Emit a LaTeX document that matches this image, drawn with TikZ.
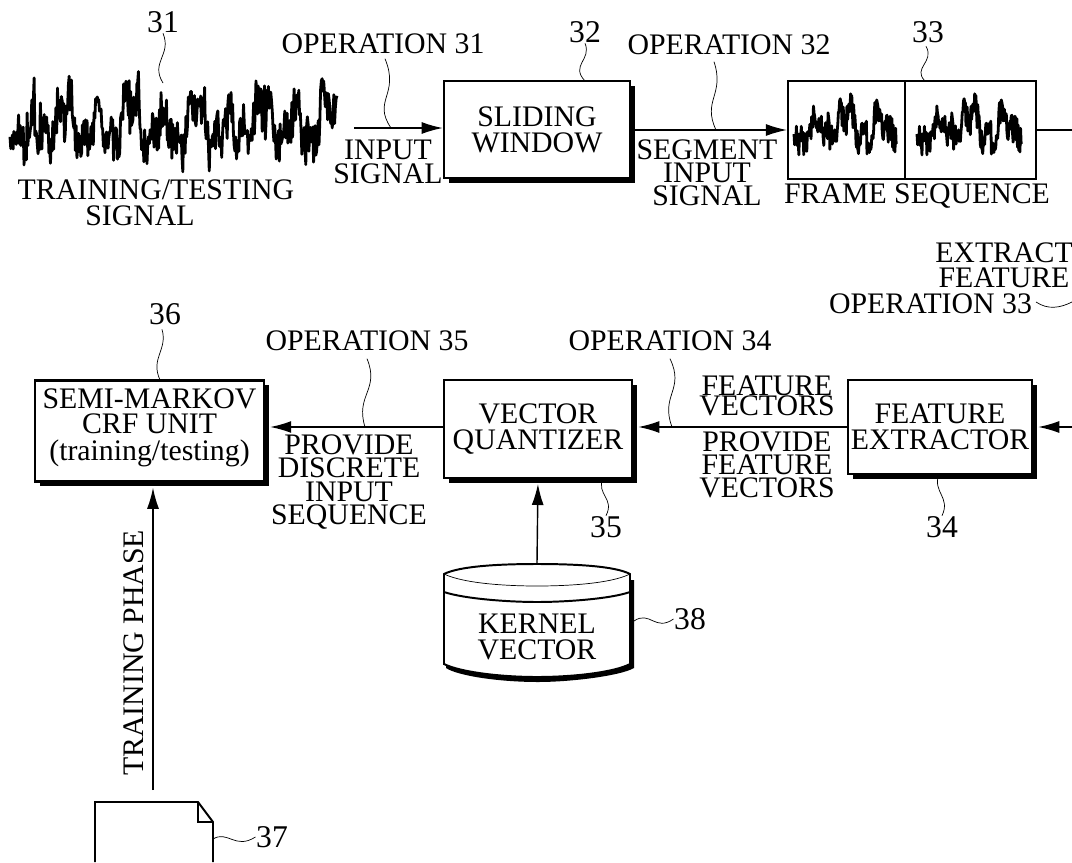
\documentclass[tikz,border=0pt]{standalone}
\usepackage{fontspec}
\setmainfont{Liberation Serif}
\usetikzlibrary{arrows.meta,shadows}
\tikzset{
  lbl/.style={inner sep=0pt,align=center,font=\fontsize{21.2}{16.5}\selectfont},
  num/.style={inner sep=0pt,font=\fontsize{22.5}{22}\selectfont},
  boxed/.style={draw,line width=1.8pt,fill=white,inner sep=0pt,align=center,
    font=\fontsize{21.2}{18.5}\selectfont,
    drop shadow={shadow xshift=3.4pt,shadow yshift=-3.4pt,opacity=1,fill=black}},
  frame/.style={draw,line width=1.6pt,inner sep=0pt},
  leader/.style={line width=0.5pt},
  wave/.style={line width=2pt,line join=round}
}
% noisy signal: x start, x end, centre, height, samples, frequency
\newcommand{\sigwave}[6]{
  \draw[wave] plot[domain=0:1,samples=#5]
    ({#1+\x*(#2-#1)},{#3+#4*(0.30*sin(\x*#6*11)+0.22*sin(\x*#6*27+40)+0.16*sin(\x*#6*5.3)+0.42*rand+0.45*rand*rand*rand)});
}
\begin{document}
\begin{tikzpicture}[x=0.025cm,y=-0.025cm,line width=1pt,>={Latex[length=15pt,width=8.5pt]}]
  \useasboundingbox (0,0) rectangle (1072,862);

  \pgfmathsetseed{7}
  \sigwave{10}{337}{125}{52}{420}{330}
  \node[num] (n31) at (163,22) {31};
  \coordinate (w31) at (163,83);
  \draw[leader] (n31.south) .. controls (172,55) and (150,62) .. (w31);
  \node[lbl] (t1) at (156,190) {TRAINING/TESTING};
  \node[lbl] (t2) at (140,216) {SIGNAL};

  \node[lbl] (op31) at (383,44) {OPERATION 31};
  \coordinate (s1) at (354,128);
  \node[lbl] (in1) at (388,162) {INPUT\\[1pt]SIGNAL};

  \node[boxed,minimum width=132.2pt,minimum height=69pt] (win) at (537,129.5) {SLIDING\\WINDOW};
  \draw[->] (s1) -- (s1-|win.west);
  \coordinate (l31) at (391,128);
  \draw[leader] (op31.south)++(2,4) .. controls (400,95) and (372,100) .. (l31);
  \node[num] (n32) at (585,32) {32};
  \coordinate (l32) at (585,81);
  \draw[leader] (n32.south) .. controls (592,60) and (570,65) .. (l32);

  \node[frame,minimum width=83pt,minimum height=70pt] (f1) at (846.5,130) {};
  \node[frame,minimum width=93pt,minimum height=70pt] (f2) at (970.5,130) {};
  \pgfmathsetseed{11}
  \sigwave{794}{897}{127}{36}{170}{110}
  \pgfmathsetseed{11}
  \sigwave{917}{1022}{127}{36}{170}{110}
  \coordinate (e1) at (1072,130);
  \draw (f2.east) -- (e1);
  \node[num] (n33) at (928,32) {33};
  \coordinate (l33) at (925,81);
  \draw[leader] (n33.south)++(-2,3) .. controls (935,62) and (912,68) .. (l33);
  \node[lbl] (fs) at (917,196) {FRAME SEQUENCE};

  \node[lbl] (op32) at (729,45) {OPERATION 32};
  \coordinate (s2) at (634,130);
  \draw[->] (s2) -- (f1.west);
  \coordinate (l2) at (716,130);
  \draw[leader] (op32.south)++(-15,6) .. controls (725,95) and (702,100) .. (l2);
  \node[lbl] (seg) at (707,172.5) {SEGMENT\\INPUT\\SIGNAL};

  \node[lbl,font=\fontsize{21.2}{18}\selectfont] (ext) at (1004,265) {EXTRACT\\FEATURE};
  \node[lbl] (op33) at (930.5,304) {OPERATION 33};
  \coordinate (l33a) at (1036,302);
  \coordinate (l33b) at (1072,302);
  \draw[leader] (l33a) .. controls (1048,310) and (1060,308) .. (l33b);

  \node[boxed,minimum width=163pt,minimum height=72pt,font=\fontsize{21.2}{18}\selectfont] (semi) at (149.5,431) {SEMI-MARKOV\\CRF UNIT\\[1pt](training/testing)\\[-9pt]\mbox{}};
  \node[num] (n36) at (165,314) {36};
  \coordinate (l36) at (160,380);
  \draw[leader] (n36.south)++(-3,4) .. controls (168,350) and (150,358) .. (l36);

  \node[boxed,minimum width=134pt,minimum height=69.5pt] (vq) at (538,429) {VECTOR\\QUANTIZER};
  \node[num] (n35) at (606,527) {35};
  \coordinate (l35) at (603,478);
  \draw[leader] (l35) .. controls (596,495) and (615,498) .. (n35.north);

  \node[boxed,minimum width=131pt,minimum height=67pt] (fx) at (940,427) {FEATURE\\EXTRACTOR};
  \node[num] (n34) at (942,527) {34};
  \coordinate (l34) at (939,474);
  \draw[leader] (l34) .. controls (932,492) and (951,497) .. (n34.north);

  \coordinate (e2) at (1072,427);
  \draw[->,shorten >=3.4pt] (e2) -- (fx.east);
  \draw[->,shorten >=3.4pt] (fx.west) -- (vq.east|-fx.west);
  \draw[->,shorten >=3.4pt] (vq.west|-fx.west) -- (semi.east|-fx.west);

  \node[lbl] (op35) at (367,341) {OPERATION 35};
  \coordinate (l4) at (365,427);
  \draw[leader] (op35.south)++(0,7) .. controls (380,390) and (355,395) .. (l4);
  \node[lbl] (op34) at (670,341) {OPERATION 34};
  \coordinate (l5) at (672,427);
  \draw[leader] (op34.south)++(0,7) .. controls (685,390) and (660,395) .. (l5);

  \node[lbl,font=\fontsize{21.2}{14.5}\selectfont] (fv) at (767,396) {FEATURE\\VECTORS};
  \node[lbl] (pf) at (767,465) {PROVIDE\\FEATURE\\VECTORS};
  \node[lbl] (pd) at (349,482) {PROVIDE\\DISCRETE\\INPUT\\SEQUENCE};

  % kernel vector store
  \fill (446,580) -- (634,580) -- (634,668) .. controls (620,676) and (570,682) .. (538,682)
    .. controls (500,682) and (458,676) .. (446,668) -- cycle;
  \draw[line width=1.4pt,fill=white] (444,574) .. controls (460,566) and (500,564) .. (537,564)
    .. controls (575,564) and (615,566) .. (630,574) -- (630,664)
    .. controls (615,672) and (575,677) .. (537,677)
    .. controls (500,677) and (460,672) .. (444,664) -- cycle;
  \draw[line width=0.5pt] (444,574) .. controls (465,584) and (510,586) .. (537,586)
    .. controls (565,586) and (610,584) .. (630,574);
  \draw[line width=1.4pt] (444,592) .. controls (465,599) and (510,602) .. (537,602)
    .. controls (565,602) and (610,599) .. (630,592);
  \node[inner sep=0pt,minimum width=132pt,minimum height=80.5pt,align=center,
    font=\fontsize{21.2}{18.5}\selectfont] (ker) at (537,620.5) {\\[19pt]KERNEL\\VECTOR};
  \draw[->,shorten >=3.4pt] (ker.north) -- (vq.south);
  \node[num] (n38) at (690,619) {38};
  \coordinate (l38) at (634,621);
  \draw[leader] (l38) .. controls (650,610) and (655,632) .. (n38.west);

  % training document
  \draw[line width=1.4pt] (95,862) -- (95,802) -- (198,802) -- (213,822) -- (213,862);
  \draw[line width=1.2pt] (198,802) -- (198,822) -- (213,822);
  \coordinate (d1) at (153,790);
  \draw[->,shorten >=3.4pt] (d1) -- (semi.south-|d1);
  \node[lbl,rotate=90] (tp) at (134,653) {TRAINING PHASE};
  \node[num] (n37) at (272,837) {37};
  \coordinate (l37) at (213,839);
  \draw[leader] (l37) .. controls (228,830) and (235,850) .. (n37.west);
\end{tikzpicture}
\end{document}
